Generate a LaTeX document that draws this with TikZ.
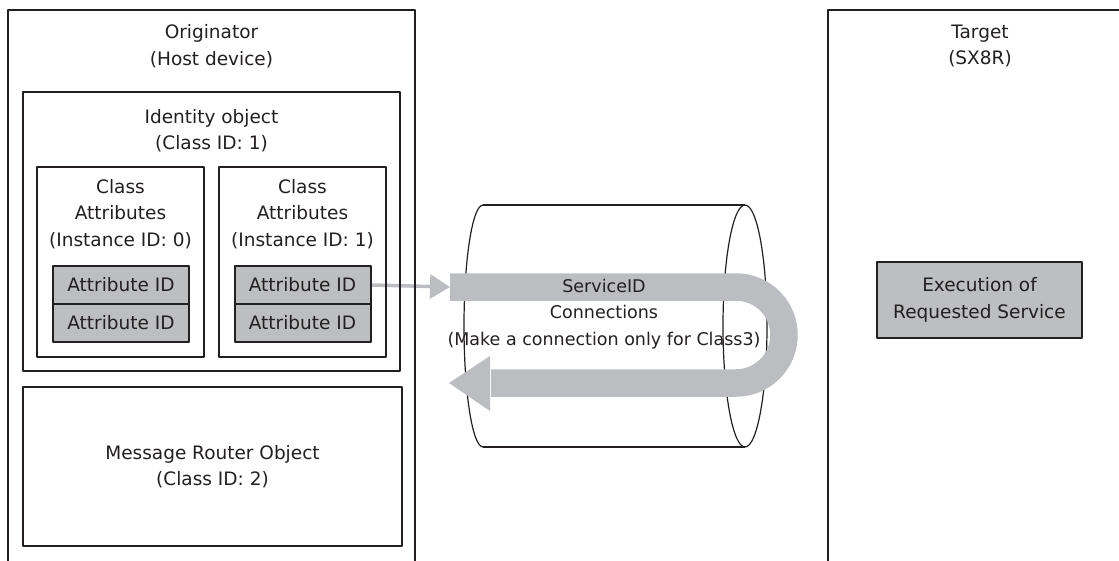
\documentclass[tikz,border=0pt]{standalone}
\usepackage{fontspec}
\setmainfont{DejaVu Sans}
\usetikzlibrary{arrows.meta,positioning,backgrounds}
\definecolor{inkgray}{HTML}{231F20}
\definecolor{attrgray}{HTML}{BDBEC0}
\definecolor{flowgray}{HTML}{BCBDC0}
\tikzset{
	box/.style={draw=inkgray, line width=2pt, inner sep=0pt},
	attrbox/.style={box, fill=attrgray, text=inkgray, minimum width=136pt, minimum height=38pt},
	lbl/.style={text=inkgray, align=center},
	cyl/.style={draw=inkgray, line width=1.2pt},
	flow/.style={draw=flowgray, line width=27.5pt},
}
\begin{document}
\begin{tikzpicture}[x=1pt, y=-1pt, font=\fontsize{18.5}{26.5}\selectfont, line join=round]
	\useasboundingbox (0,0) rectangle (1119,560);
	\clip (0,0) rectangle (1119,560);
	% connection cylinder
	\draw[cyl] (483,205) -- (745,205);
	\draw[cyl] (483,447) -- (745,447);
	\draw[cyl] (483,205) arc[start angle=270, end angle=90, x radius=19, y radius=121];
	\draw[cyl] (745,326) ellipse[x radius=22, y radius=121];
	% request and response
	\coordinate (uin) at (450,287);
	\coordinate (uout) at (491,383);
	\draw[flow] (uin) -- (736,287) arc[start angle=-90, end angle=90, radius=48] -- (uout);
	\fill[flowgray] (490,356) -- (449,383) -- (490,411) -- cycle;
	% originator
	\node[box, minimum width=407pt, minimum height=552pt] (orig) at (211.5,286) {};
	\node[box, minimum width=377pt, minimum height=279pt] (ident) at (211.5,231.5) {};
	\node[box, minimum width=167pt, minimum height=190pt] (cls0) at (120.5,262) {};
	\node[box, minimum width=167pt, minimum height=190pt] (cls1) at (302.5,262) {};
	\node[attrbox] (attr0a) at (121,285) {Attribute ID};
	\node[attrbox] (attr0b) at (121,323) {Attribute ID};
	\node[attrbox] (attr1a) at (302.5,285) {Attribute ID};
	\node[attrbox] (attr1b) at (302.5,323) {Attribute ID};
	\node[box, minimum width=379pt, minimum height=159pt] (msg) at (212.5,466.5) {};
	% target
	\node[box, minimum width=297pt, minimum height=552pt] (tgt) at (976.5,286) {};
	\node[box, fill=attrgray, text=inkgray, align=center, minimum width=205pt, minimum height=76pt] (exec) at (979.5,300) {Execution of\\Requested Service};
	% labels
	\node[lbl] (origlbl) at (211.5,46) {Originator\\(Host device)};
	\node[lbl] (identlbl) at (211.5,130.5) {Identity object\\(Class ID: 1)};
	\node[lbl] (cls0lbl) at (120.5,214) {Class\\Attributes\\(Instance ID: 0)};
	\node[lbl] (cls1lbl) at (302.5,214) {Class\\Attributes\\(Instance ID: 1)};
	\node[lbl] (msglbl) at (msg) {Message Router Object\\(Class ID: 2)};
	\node[lbl] (tgtlbl) at (980,46) {Target\\(SX8R)};
	\node[lbl, font=\fontsize{17.5}{26.5}\selectfont] (svclbl) at (604,314) {ServiceID\\Connections\\(Make a connection only for Class3)};
	\begin{pgfonlayer}{background}
		\draw[flowgray, line width=3.5pt, -{Triangle[length=20pt, width=24pt]}] (attr1a.east) -- (uin);
	\end{pgfonlayer}
\end{tikzpicture}
\end{document}
